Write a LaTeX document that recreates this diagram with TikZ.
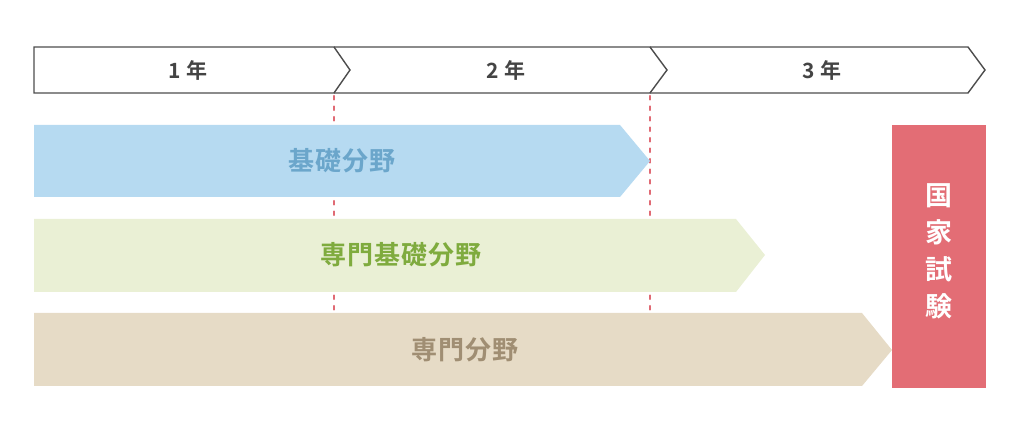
\documentclass[tikz,border=0pt]{standalone}
\usepackage{fontspec}
\setmainfont{Noto Sans CJK JP}[BoldFont={* Bold}]
\newfontfamily\jpb{Noto Sans CJK JP Bold}
\newfontfamily\jpbs{Noto Sans CJK JP Bold}[LetterSpace=4]
\definecolor{outl}{HTML}{4D4D4D}
\definecolor{dashred}{HTML}{E06A74}
\definecolor{bluebar}{HTML}{B6DAF1}
\definecolor{bluetxt}{HTML}{6BA6CB}
\definecolor{greenbar}{HTML}{EAF0D5}
\definecolor{greentxt}{HTML}{7FAB3E}
\definecolor{beigebar}{HTML}{E6DBC6}
\definecolor{beigetxt}{HTML}{A08E73}
\definecolor{examred}{HTML}{E36D75}
\definecolor{yeartxt}{HTML}{444444}
\begin{document}
\begin{tikzpicture}[x=1pt,y=-1pt,
  seg/.style={draw=outl,line width=1.4pt,fill=white,line join=miter},
  yearlbl/.style={font=\jpb\fontsize{21}{21}\selectfont,text=yeartxt,inner sep=0pt},
  barlbl/.style={font=\jpbs\fontsize{26}{26}\selectfont,inner sep=0pt},
  guide/.style={draw=dashred,line width=2.2pt,line cap=round,dash pattern=on 3.5pt off 7pt}]
\useasboundingbox (0,0) rectangle (1020,435);
% guide lines
\coordinate (g1a) at (334,96); \coordinate (g1b) at (334,312);
\coordinate (g2a) at (650,96); \coordinate (g2b) at (650,312);
\draw[guide] (g1a) -- (g1b);
\draw[guide] (g2a) -- (g2b);
% timeline
\draw[seg] (650,47) -- (968,47) -- (985,70) -- (968,93) -- (650,93);
\draw[seg] (334,47) -- (650,47) -- (667,70) -- (650,93) -- (334,93);
\draw[seg] (34,47) -- (334,47) -- (350,70) -- (334,93) -- (34,93) -- cycle;
\node[yearlbl] (y1) at (188,70) {1 年};
\node[yearlbl] (y2) at (506,70) {2 年};
\node[yearlbl] (y3) at (822,70) {3 年};
% bars
\fill[bluebar] (34,125) -- (620,125) -- (650,161) -- (620,197) -- (34,197) -- cycle;
\node[barlbl,text=bluetxt] (b1) at (342,161) {基礎分野};
\fill[greenbar] (34,219) -- (736,219) -- (765,255) -- (736,292) -- (34,292) -- cycle;
\node[barlbl,text=greentxt] (b2) at (401,255) {専門基礎分野};
\fill[beigebar] (34,313) -- (862,313) -- (892,350) -- (862,386) -- (34,386) -- cycle;
\node[barlbl,text=beigetxt] (b3) at (465,350) {専門分野};
% exam
\fill[examred] (892,125) rectangle (986,388);
\node[font=\jpb\fontsize{27}{37}\selectfont,text=white,align=center,inner sep=0pt] (ex) at (939,251) {国\\家\\試\\験};
\end{tikzpicture}
\end{document}
